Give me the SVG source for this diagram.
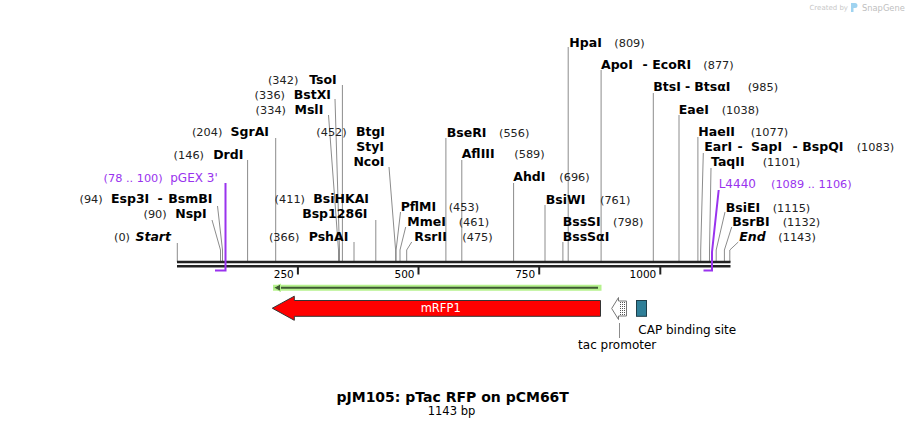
<svg xmlns="http://www.w3.org/2000/svg" width="908" height="427" viewBox="0 0 908 427">
<style>
text{font-family:"DejaVu Sans","Liberation Sans",sans-serif;fill:#000}
.n{font-size:12.5px;font-weight:bold}
.it{font-size:12.5px;font-weight:bold;font-style:italic}
.d{font-size:12.5px;font-weight:bold;text-anchor:middle}
.p{font-size:11.3px;fill:#222}
.pu{fill:#9933ee}
.pn{font-size:12px;fill:#9933ee}
.e{text-anchor:end}
.m{text-anchor:middle}
.l{stroke:#8c8c8c;stroke-width:1;fill:none}
.pl{stroke:#9933ee;stroke-width:2;fill:none}
.bb{stroke:#222;stroke-width:2.5}
.tk{stroke:#222;stroke-width:2}
.tl{font-size:10.5px;text-anchor:end}
.ft{font-size:12px}
</style>
<rect width="908" height="427" fill="#fff"/>

<g id="watermark">
<text x="848" y="10" font-size="7" style="fill:#c8c8c8" text-anchor="end">Created by</text>
<path d="M851 3 h4 a2.5 2.5 0 0 1 0 5 h-1.5 v4 h-2.5 z" fill="#9fd3f0"/>
<text x="862" y="11" font-size="8.3" style="fill:#c0c0c0">SnapGene</text>
</g>

<g id="connectors">
<polyline class="l" points="177.3,243 177.3,262"/>
<polyline class="l" points="212,220 220.5,250 220.5,262"/>
<polyline class="l" points="217.5,206 222.5,250 222.5,262"/>
<polyline class="l" points="247.6,160 247.6,262"/>
<polyline class="l" points="275.7,138 275.7,262"/>
<polyline class="l" points="328.5,115 338.5,250 338.5,262"/>
<polyline class="l" points="335,99 339.5,250 339.5,262"/>
<polyline class="l" points="342.4,85 342.4,262"/>
<polyline class="l" points="354,242 354,262"/>
<polyline class="l" points="375.8,220 375.8,262"/>
<polyline class="l" points="389,167 395.6,250 395.6,262"/>
<polyline class="l" points="400.5,212 396.1,250 396.1,262"/>
<polyline class="l" points="405.7,227 400,250 400,262"/>
<polyline class="l" points="411.7,242 406.7,250 406.7,262"/>
<polyline class="l" points="445.9,138 445.9,262"/>
<polyline class="l" points="461.8,160 461.8,262"/>
<polyline class="l" points="513.6,183 513.6,262"/>
<polyline class="l" points="545,205 545,262"/>
<polyline class="l" points="562.9,242 562.9,262"/>
<polyline class="l" points="568.2,47 568.2,262"/>
<polyline class="l" points="601.1,70 601.1,262"/>
<polyline class="l" points="653.3,93 653.3,262"/>
<polyline class="l" points="679,115 679,262"/>
<polyline class="l" points="697.9,137 697.9,262"/>
<polyline class="l" points="703.3,153 700.7,250 700.7,262"/>
<polyline class="l" points="711,168 709.5,250 709.5,262"/>
<polyline class="l" points="725,212 716.2,250 716.2,262"/>
<polyline class="l" points="731.7,227 724.4,250 724.4,262"/>
<polyline class="l" points="738.3,242 729.8,250 729.8,262"/>
<polyline class="l" points="619.5,323 619.5,338"/>
</g>

<g id="backbone">
<line class="bb" x1="177" y1="262" x2="730.5" y2="262"/>
<line class="bb" x1="177" y1="266.2" x2="730.5" y2="266.2"/>
<line class="tk" x1="297.9" y1="267" x2="297.9" y2="274.5"/>
<line class="tk" x1="418.5" y1="267" x2="418.5" y2="274.5"/>
<line class="tk" x1="539.2" y1="267" x2="539.2" y2="274.5"/>
<line class="tk" x1="660.3" y1="267" x2="660.3" y2="274.5"/>
<text class="tl" x="293.8" y="278">250</text>
<text class="tl" x="414.5" y="278">500</text>
<text class="tl" x="535.2" y="278">750</text>
<text class="tl" x="656.3" y="278">1000</text>
</g>

<g id="primer-pGEX3">
<polyline class="pl" points="225.5,183 225.5,270.5 215,270.5"/>
<text class="p pu e" x="162.7" y="181.8">(78 .. 100)</text>
<text class="pn e" x="217.7" y="181.8">pGEX 3'</text>
</g>
<g id="primer-L4440">
<polyline class="pl" points="718.7,190 712,252 712,270.5 703.5,270.5"/>
<text class="pn" x="718.7" y="187.8">L4440</text>
<text class="p pu" x="771" y="187.8">(1089 .. 1106)</text>
</g>

<g id="site-Start"><text class="p e" x="130" y="241.2">(0)</text><text class="it e" x="171" y="241.2">Start</text></g>
<g id="site-NspI"><text class="p e" x="166.7" y="218.2">(90)</text><text class="n e" x="206.7" y="218.2">NspI</text></g>
<g id="site-Esp3I"><text class="p e" x="102.7" y="202.8">(94)</text><text class="n" x="111" y="202.8">Esp3I</text><text class="d" x="160" y="202.8">-</text><text class="n" x="168.3" y="202.8">BsmBI</text></g>
<g id="site-DrdI"><text class="p e" x="204" y="158.5">(146)</text><text class="n e" x="243.3" y="158.5">DrdI</text></g>
<g id="site-SgrAI"><text class="p e" x="222.3" y="136.2">(204)</text><text class="n e" x="269" y="136.2">SgrAI</text></g>
<g id="site-TsoI"><text class="p e" x="298.3" y="83.5">(342)</text><text class="n e" x="336.7" y="83.5">TsoI</text></g>
<g id="site-BstXI"><text class="p e" x="285" y="98.5">(336)</text><text class="n e" x="331" y="98.5">BstXI</text></g>
<g id="site-MslI"><text class="p e" x="286" y="113.5">(334)</text><text class="n e" x="323.3" y="113.5">MslI</text></g>
<g id="site-BtgI"><text class="p e" x="346.7" y="136.2">(452)</text><text class="n e" x="385" y="136.2">BtgI</text><text class="n e" x="384" y="151">StyI</text><text class="n e" x="384.5" y="165.5">NcoI</text></g>
<g id="site-BsiHKAI"><text class="p e" x="305" y="202.8">(411)</text><text class="n e" x="369" y="202.8">BsiHKAI</text><text class="n e" x="367.5" y="218.2">Bsp1286I</text></g>
<g id="site-PshAI"><text class="p e" x="299.3" y="241.2">(366)</text><text class="n e" x="348.3" y="241.2">PshAI</text></g>
<g id="site-PflMI"><text class="n" x="400.7" y="211.2">PflMI</text><text class="p" x="448.7" y="211.2">(453)</text></g>
<g id="site-MmeI"><text class="n" x="407.3" y="226.2">MmeI</text><text class="p" x="458.7" y="226.2">(461)</text></g>
<g id="site-RsrII"><text class="n" x="414.3" y="241.2">RsrII</text><text class="p" x="462.3" y="241.2">(475)</text></g>
<g id="site-BseRI"><text class="n" x="446.7" y="136.5">BseRI</text><text class="p" x="499" y="136.5">(556)</text></g>
<g id="site-AflIII"><text class="n" x="461.7" y="157.8">AflIII</text><text class="p" x="514.3" y="157.8">(589)</text></g>
<g id="site-AhdI"><text class="n" x="513.3" y="181.2">AhdI</text><text class="p" x="559.3" y="181.2">(696)</text></g>
<g id="site-BsiWI"><text class="n" x="545.7" y="203.5">BsiWI</text><text class="p" x="600" y="203.5">(761)</text></g>
<g id="site-BssSI"><text class="n" x="562.7" y="226.2">BssSI</text><text class="p" x="613" y="226.2">(798)</text><text class="n" x="562.7" y="241.2">BssSαI</text></g>
<g id="site-HpaI"><text class="n" x="569.3" y="46.8">HpaI</text><text class="p" x="614.3" y="46.8">(809)</text></g>
<g id="site-ApoI"><text class="n" x="601" y="68.5">ApoI</text><text class="d" x="645" y="68.5">-</text><text class="n" x="652.3" y="68.5">EcoRI</text><text class="p" x="703.3" y="68.5">(877)</text></g>
<g id="site-BtsI"><text class="n" x="653.3" y="91.2">BtsI</text><text class="d" x="687.5" y="91.2">-</text><text class="n" x="694.3" y="91.2">BtsαI</text><text class="p" x="747.7" y="91.2">(985)</text></g>
<g id="site-EaeI"><text class="n" x="678.7" y="113.5">EaeI</text><text class="p" x="721.7" y="113.5">(1038)</text></g>
<g id="site-HaeII"><text class="n" x="698.3" y="136.2">HaeII</text><text class="p" x="750.7" y="136.2">(1077)</text></g>
<g id="site-EarI"><text class="n" x="704.3" y="151.2">EarI</text><text class="d" x="740" y="151.2">-</text><text class="n" x="751" y="151.2">SapI</text><text class="d" x="795" y="151.2">-</text><text class="n" x="802.3" y="151.2">BspQI</text><text class="p" x="856.7" y="151.2">(1083)</text></g>
<g id="site-TaqII"><text class="n" x="711" y="166.2">TaqII</text><text class="p" x="762.7" y="166.2">(1101)</text></g>
<g id="site-BsiEI"><text class="n" x="725.7" y="211.8">BsiEI</text><text class="p" x="772.7" y="211.8">(1115)</text></g>
<g id="site-BsrBI"><text class="n" x="732.3" y="226.2">BsrBI</text><text class="p" x="782.7" y="226.2">(1132)</text></g>
<g id="site-End"><text class="it" x="739.3" y="241.2">End</text><text class="p" x="778.3" y="241.2">(1143)</text></g>

<g id="feature-green">
<line x1="276" y1="287.7" x2="598.5" y2="287.7" stroke="#b6f28e" stroke-width="6" stroke-linecap="square"/>
<line x1="279" y1="287.7" x2="598" y2="287.7" stroke="#3f5a33" stroke-width="2"/>
<polygon points="273.5,287.7 280.5,284 280.5,291.4" fill="#3f5a33" stroke="#b6f28e" stroke-width="1"/>
</g>

<g id="feature-mRFP1">
<polygon points="272.3,308.2 294.3,296.2 294.3,300.5 600.5,300.5 600.5,316.3 294.3,316.3 294.3,320.3" fill="#ff0000" stroke="#333" stroke-width="1"/>
<text x="440.7" y="312.3" class="m" font-size="11.5" style="fill:#fff">mRFP1</text>
</g>

<g id="feature-tac">
<polygon points="611.7,308.5 618.5,297.5 618.5,301 626.5,301 626.5,316 618.5,316 618.5,319.5" fill="#fff" stroke="#777" stroke-width="1"/>
<line x1="620.5" y1="302" x2="620.5" y2="315" stroke="#555" stroke-width="1" stroke-dasharray="1,1"/>
<line x1="622.5" y1="302" x2="622.5" y2="315" stroke="#555" stroke-width="1" stroke-dasharray="1,1"/>
<line x1="624.5" y1="302" x2="624.5" y2="315" stroke="#555" stroke-width="1" stroke-dasharray="1,1"/>
<text class="ft m" x="617.2" y="348.5">tac promoter</text>
</g>

<g id="feature-CAP">
<rect x="636.5" y="300.5" width="10" height="15.8" fill="#2f7f98" stroke="#1e3f4a" stroke-width="1"/>
<text class="ft" x="638.3" y="334.2">CAP binding site</text>
</g>

<g id="title">
<text x="452.7" y="401.5" class="m" font-size="14" font-weight="bold">pJM105: pTac RFP on pCM66T</text>
<text x="451.5" y="414.5" class="m" font-size="11.5">1143 bp</text>
</g>
</svg>
